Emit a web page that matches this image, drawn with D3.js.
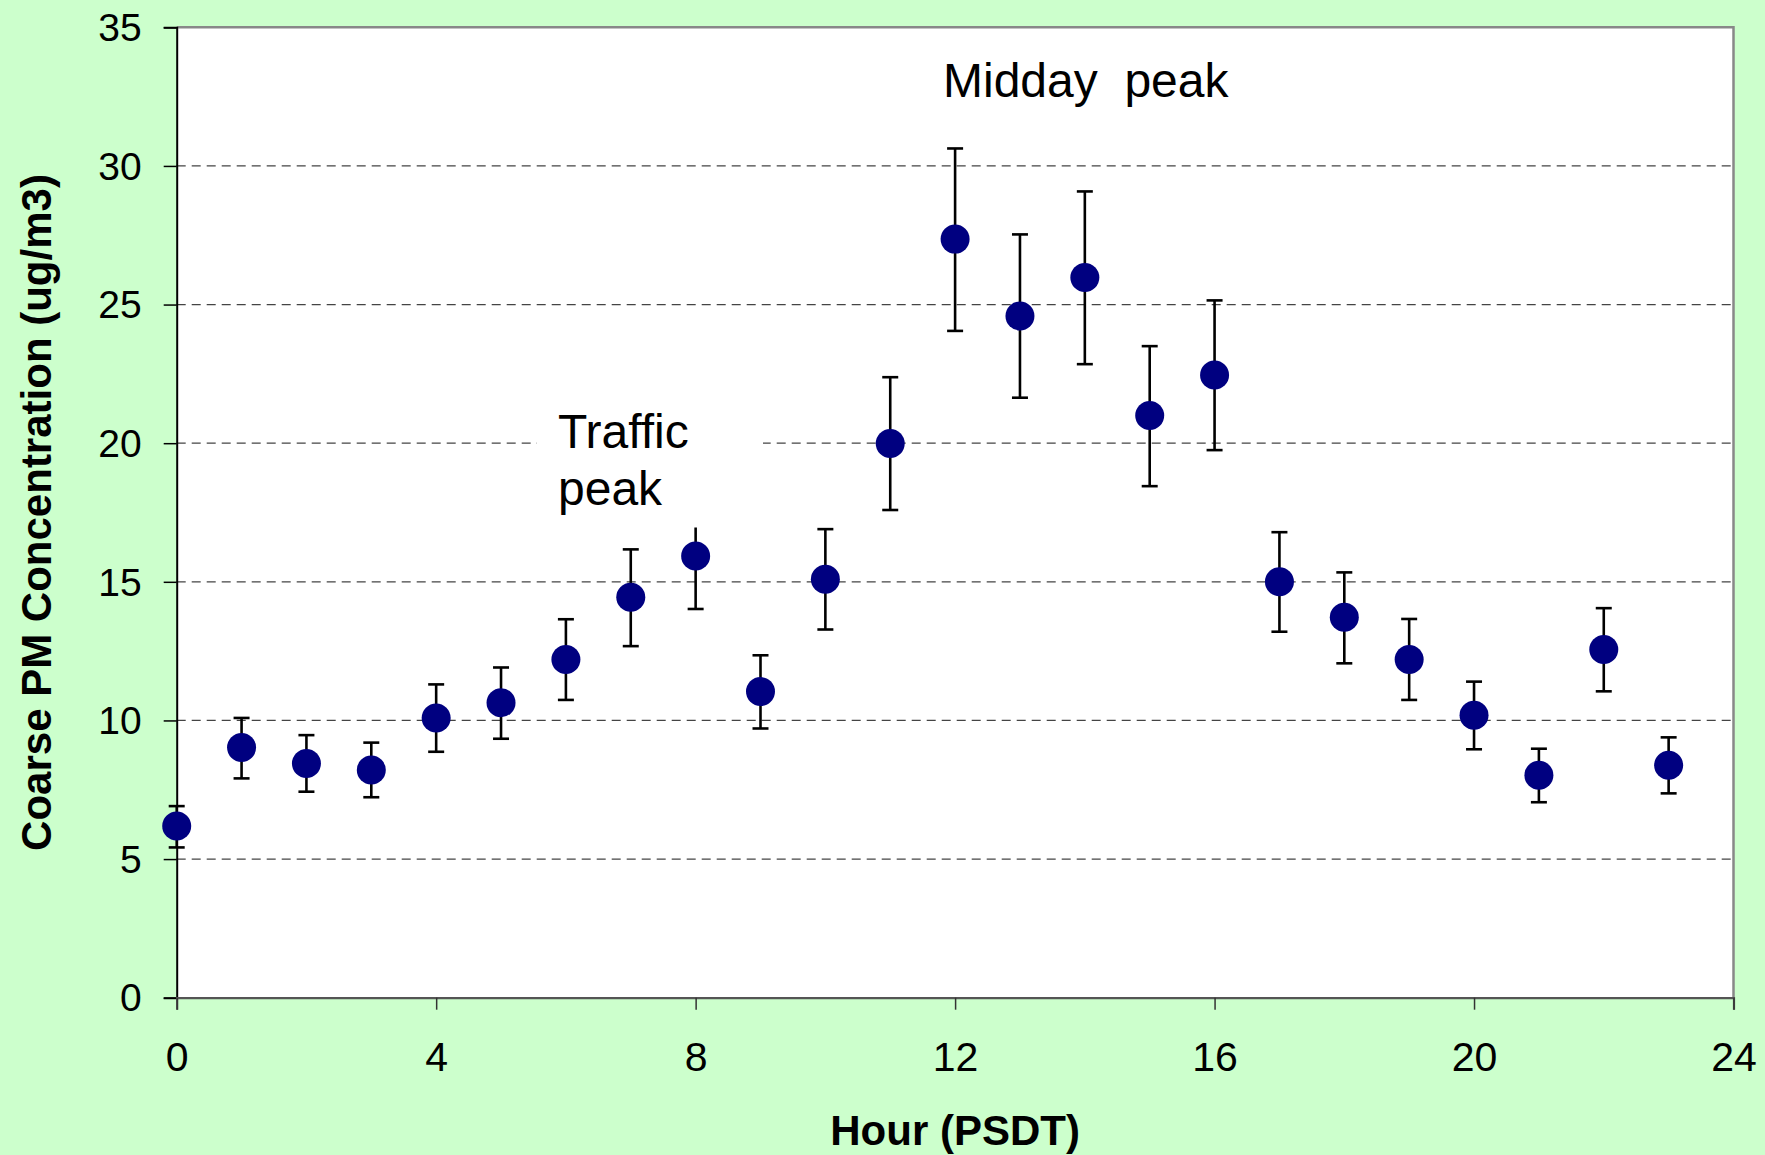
<!DOCTYPE html>
<html>
<head>
<meta charset="utf-8">
<script src="https://cdn.jsdelivr.net/npm/d3@7"></script>
<style>
  html, body { margin: 0; padding: 0; background: #CCFFCC; }
  svg { display: block; }
  text { font-family: "Liberation Sans", Arial, sans-serif; fill: #000; }
</style>
</head>
<body>
<svg id="chart" width="1765" height="1155"></svg>
<script>
// ---- data ----
const hours = [0,1,2,3,4,5,6,7,8,9,10,11,12,13,14,15,16,17,18,19,20,21,22,23];
const meanPM = [6.19,9.02,8.45,8.21,10.09,10.64,12.20,14.44,15.93,11.04,15.09,19.99,27.36,24.59,25.98,21.00,22.46,15.00,13.72,12.20,10.19,8.02,12.56,8.38];
const upperPM = [6.91,10.09,9.47,9.20,11.30,11.91,13.65,16.17,17.10,12.35,16.90,22.38,30.63,27.53,29.08,23.50,25.15,16.79,15.34,13.66,11.40,8.98,14.05,9.39];
const lowerPM = [5.42,7.91,7.43,7.23,8.87,9.34,10.74,12.68,14.02,9.71,13.28,17.59,24.05,21.64,22.85,18.45,19.75,13.20,12.06,10.74,8.96,7.05,11.05,7.37];
const xTicks = [0,4,8,12,16,20,24];
const yTicks = [0,5,10,15,20,25,30,35];
const gridValues = [5,10,15,20,25,30];
const yTitle = "Coarse PM Concentration (ug/m3)";
const xTitle = "Hour (PSDT)";
const annoMidday = "Midday  peak";
const annoTraffic = ["Traffic", "peak"];

// ---- layout ----
const L = 176.7, R = 1733.5, T = 27.3, B = 997.7;
const svg = d3.select("#chart");
const x = d3.scaleLinear().domain([0, 24]).range([L, R]);
const y = d3.scaleLinear().domain([0, 35]).range([B, T]);

svg.append("rect").attr("width", 1765).attr("height", 1155).attr("fill", "#CCFFCC");
svg.append("rect").attr("x", L).attr("y", T).attr("width", R - L).attr("height", B - T).attr("fill", "#fff");

// gridlines
svg.append("g").selectAll("line").data(gridValues).join("line")
  .attr("x1", L).attr("x2", R)
  .attr("y1", d => y(d)).attr("y2", d => y(d))
  .attr("stroke", "#444").attr("stroke-width", 1.3)
  .attr("stroke-dasharray", "9,6");

// plot border top/right
svg.append("path")
  .attr("d", `M${L},${T}H${R}V${B}`)
  .attr("fill", "none").attr("stroke", "#888").attr("stroke-width", 2.5);

// y axis
const yAxis = d3.axisLeft(y).tickValues(yTicks).tickSize(13).tickPadding(22).tickFormat(d3.format("d"));
const gy = svg.append("g").attr("transform", `translate(${L},0)`).call(yAxis);
gy.select(".domain").attr("stroke", "#000").attr("stroke-width", 2);
gy.selectAll(".tick line").attr("stroke", "#000").attr("stroke-width", 1.5);
gy.selectAll(".tick text").attr("font-size", 39).attr("font-family", "Liberation Sans, Arial, sans-serif").attr("fill", "#000").attr("dy", "0.34em");

// x axis
const xAxis = d3.axisBottom(x).tickValues(xTicks).tickSize(12).tickPadding(32).tickFormat(d3.format("d"));
const gx = svg.append("g").attr("transform", `translate(0,${B})`).call(xAxis);
gx.select(".domain").attr("stroke", "#555").attr("stroke-width", 2.2);
gx.selectAll(".tick line").attr("stroke", "#333").attr("stroke-width", 1.5);
gx.selectAll(".tick text").attr("font-size", 41).attr("font-family", "Liberation Sans, Arial, sans-serif").attr("fill", "#000");

// error bars
const eb = svg.append("g").attr("stroke", "#000").attr("stroke-width", 2.6);
hours.forEach((h, i) => {
  const cx = x(h);
  eb.append("line").attr("x1", cx).attr("x2", cx).attr("y1", y(upperPM[i])).attr("y2", y(lowerPM[i]));
  eb.append("line").attr("x1", cx - 8).attr("x2", cx + 8).attr("y1", y(upperPM[i])).attr("y2", y(upperPM[i]));
  eb.append("line").attr("x1", cx - 8).attr("x2", cx + 8).attr("y1", y(lowerPM[i])).attr("y2", y(lowerPM[i]));
});

// Traffic peak text box (white, hides what lies beneath)
svg.append("rect").attr("x", 537).attr("y", 400).attr("width", 226).attr("height", 127.5).attr("fill", "#fff");
svg.append("text").attr("x", 558).attr("y", 448.3).attr("font-size", 48).text(annoTraffic[0]);
svg.append("text").attr("x", 558).attr("y", 505).attr("font-size", 48).text(annoTraffic[1]);

// points
svg.append("g").selectAll("circle").data(hours).join("circle")
  .attr("cx", d => x(d)).attr("cy", (d, i) => y(meanPM[i]))
  .attr("r", 14.5).attr("fill", "#000080");

// Midday annotation
svg.append("text").attr("x", 943).attr("y", 96.7).attr("font-size", 48)
  .style("white-space", "pre").text(annoMidday);

// axis titles
svg.append("text").attr("x", (L + R) / 2).attr("y", 1145).attr("text-anchor", "middle")
  .attr("font-size", 42).attr("font-weight", "bold").text(xTitle);
svg.append("text").attr("transform", `translate(51,${(T + B) / 2}) rotate(-90)`)
  .attr("text-anchor", "middle").attr("font-size", 42).attr("font-weight", "bold").text(yTitle);
</script>
</body>
</html>
